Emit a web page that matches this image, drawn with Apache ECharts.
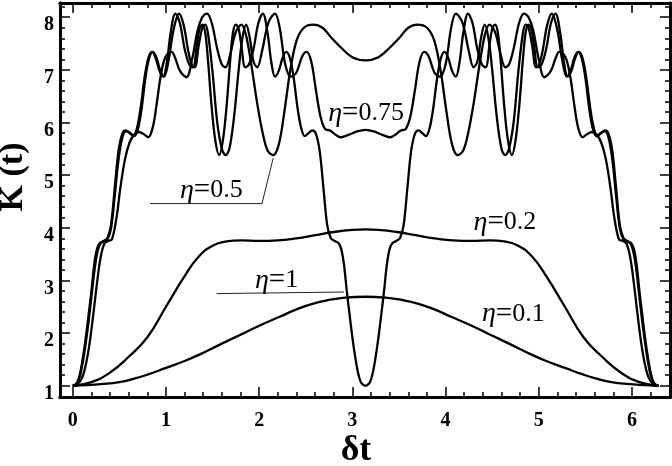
<!DOCTYPE html>
<html><head><meta charset="utf-8">
<script src="https://cdn.jsdelivr.net/npm/echarts@6.0.0/dist/echarts.min.js"></script>
<style>html,body{margin:0;padding:0;background:#fff}#c{width:672px;height:466px}</style>
</head><body><div id="c"></div>
<script>
// ---- data (x = δt, y = K(t)) ----
const eta01 = [[0,1.00],[0.15,1.01],[0.3,1.03],[0.5,1.07],[0.65,1.13],[0.8,1.21],[1.0,1.34],[1.2,1.47],[1.37,1.60],[1.6,1.80],[1.8,1.97],[2.0,2.14],[2.22,2.31],[2.4,2.45],[2.58,2.56],[2.75,2.63],[2.9,2.67],[3.1416,2.69],[3.38,2.67],[3.53,2.63],[3.70,2.56],[3.88,2.45],[4.06,2.31],[4.28,2.14],[4.48,1.97],[4.68,1.80],[4.91,1.60],[5.08,1.47],[5.28,1.34],[5.48,1.21],[5.63,1.13],[5.78,1.07],[5.98,1.03],[6.13,1.01],[6.2832,1.00]];

const eta02 = [[0,1.00],[0.2,1.07],[0.4,1.25],[0.6,1.55],[0.8,1.92],[1.0,2.50],[1.2,3.08],[1.35,3.45],[1.5,3.66],[1.65,3.74],[1.8,3.76],[2.0,3.75],[2.2,3.76],[2.4,3.80],[2.6,3.86],[2.8,3.92],[3.0,3.96],[3.1416,3.97],[3.28,3.96],[3.48,3.92],[3.68,3.86],[3.88,3.80],[4.08,3.76],[4.28,3.75],[4.48,3.76],[4.63,3.74],[4.78,3.66],[4.93,3.45],[5.08,3.08],[5.28,2.50],[5.48,1.92],[5.68,1.55],[5.88,1.25],[6.08,1.07],[6.2832,1.00]];

const eta05 = [[0,1.00],[0.05,1.03],[0.10,1.15],[0.14,1.40],[0.18,1.80],[0.22,2.35],[0.26,2.95],[0.30,3.45],[0.34,3.70],[0.38,3.75],[0.42,3.78],[0.47,4.20],[0.51,4.75],[0.56,5.30],[0.61,5.62],[0.66,5.77],[0.71,5.82],[0.76,5.78],[0.81,5.72],[0.86,5.92],[0.90,6.35],[0.94,6.85],[0.98,7.18],[1.02,7.31],[1.06,7.34],[1.10,7.22],[1.15,6.98],[1.22,6.86],[1.28,7.20],[1.34,7.75],[1.39,8.00],[1.44,8.07],[1.49,7.90],[1.55,7.40],[1.60,7.10],[1.64,7.05],[1.69,7.30],[1.75,7.72],[1.81,7.86],[1.86,7.65],[1.92,7.05],[1.98,6.35],[2.04,5.78],[2.09,5.47],[2.15,5.38],[2.21,5.58],[2.27,6.20],[2.33,6.95],[2.40,7.55],[2.48,7.80],[2.58,7.86],[2.68,7.80],[2.78,7.60],[2.88,7.42],[3.00,7.24],[3.1416,7.18],
[3.28,7.24],[3.40,7.42],[3.50,7.60],[3.60,7.80],[3.70,7.86],[3.80,7.80],[3.88,7.55],[3.95,6.95],[4.01,6.20],[4.07,5.58],[4.13,5.38],[4.19,5.47],[4.24,5.78],[4.30,6.35],[4.36,7.05],[4.42,7.65],[4.47,7.86],[4.53,7.72],[4.59,7.30],[4.64,7.05],[4.68,7.10],[4.73,7.40],[4.79,7.90],[4.84,8.07],[4.89,8.00],[4.94,7.75],[5.00,7.20],[5.06,6.86],[5.13,6.98],[5.18,7.22],[5.22,7.34],[5.26,7.31],[5.30,7.18],[5.34,6.85],[5.38,6.35],[5.42,5.92],[5.47,5.72],[5.52,5.78],[5.57,5.82],[5.62,5.77],[5.67,5.62],[5.72,5.30],[5.77,4.75],[5.81,4.20],[5.86,3.78],[5.90,3.75],[5.94,3.70],[5.98,3.45],[6.02,2.95],[6.06,2.35],[6.10,1.80],[6.14,1.40],[6.18,1.15],[6.23,1.03],[6.2832,1.00]];

const eta075 = [[0,1.00],[0.02,1.01],[0.05,1.06],[0.08,1.20],[0.11,1.47],[0.14,1.82],[0.17,2.22],[0.20,2.68],[0.23,3.15],[0.26,3.50],[0.29,3.68],[0.33,3.74],[0.37,3.78],[0.41,3.98],[0.45,4.60],[0.49,5.28],[0.53,5.70],[0.57,5.83],[0.61,5.81],[0.66,5.74],[0.70,5.88],[0.74,6.28],[0.78,6.85],[0.82,7.22],[0.86,7.34],[0.90,7.22],[0.94,6.98],[0.98,6.87],[1.03,7.20],[1.08,7.75],[1.14,8.07],[1.19,7.85],[1.24,7.35],[1.28,7.08],[1.31,7.05],[1.35,7.45],[1.39,7.80],[1.42,7.86],[1.45,7.70],[1.50,6.95],[1.55,6.00],[1.60,5.50],[1.64,5.38],[1.68,5.50],[1.73,6.10],[1.78,7.00],[1.82,7.60],[1.86,7.86],[1.90,7.60],[1.94,7.15],[1.98,7.05],[2.03,7.35],[2.10,7.90],[2.17,8.07],[2.22,7.80],[2.28,7.10],[2.34,6.87],[2.40,6.95],[2.46,7.25],[2.51,7.34],[2.56,7.15],[2.61,6.60],[2.66,6.10],[2.71,5.87],[2.76,5.85],[2.81,5.78],[2.87,5.72],[2.95,5.76],[3.05,5.83],[3.1416,5.86],
[3.23,5.83],[3.33,5.76],[3.41,5.72],[3.47,5.78],[3.52,5.85],[3.57,5.87],[3.62,6.10],[3.67,6.60],[3.72,7.15],[3.77,7.34],[3.82,7.25],[3.88,6.95],[3.94,6.87],[4.00,7.10],[4.06,7.80],[4.11,8.07],[4.18,7.90],[4.25,7.35],[4.30,7.05],[4.34,7.15],[4.38,7.60],[4.42,7.86],[4.46,7.60],[4.50,7.00],[4.55,6.10],[4.60,5.50],[4.64,5.38],[4.68,5.50],[4.73,6.00],[4.78,6.95],[4.83,7.70],[4.86,7.86],[4.89,7.80],[4.93,7.45],[4.97,7.05],[5.00,7.08],[5.04,7.35],[5.09,7.85],[5.14,8.07],[5.20,7.75],[5.25,7.20],[5.30,6.87],[5.34,6.98],[5.38,7.22],[5.42,7.34],[5.46,7.22],[5.50,6.85],[5.54,6.28],[5.58,5.88],[5.62,5.74],[5.67,5.81],[5.71,5.83],[5.75,5.70],[5.79,5.28],[5.83,4.60],[5.87,3.98],[5.91,3.78],[5.95,3.74],[5.99,3.68],[6.02,3.50],[6.05,3.15],[6.08,2.68],[6.11,2.22],[6.14,1.82],[6.17,1.47],[6.20,1.20],[6.23,1.06],[6.26,1.01],[6.2832,1.00]];

const eta1 = [[0,1.00],[0.02,1.01],[0.05,1.07],[0.08,1.25],[0.11,1.55],[0.14,1.92],[0.17,2.35],[0.20,2.80],[0.23,3.30],[0.26,3.60],[0.29,3.71],[0.33,3.75],[0.37,3.80],[0.41,4.05],[0.45,4.75],[0.49,5.45],[0.53,5.78],[0.57,5.85],[0.61,5.80],[0.65,5.74],[0.69,5.90],[0.73,6.30],[0.77,6.85],[0.81,7.22],[0.85,7.34],[0.89,7.22],[0.93,6.98],[0.97,6.87],[1.01,7.15],[1.05,7.70],[1.10,8.07],[1.15,7.88],[1.20,7.40],[1.25,7.10],[1.29,7.05],[1.33,7.45],[1.36,7.78],[1.39,7.86],[1.42,7.72],[1.45,7.20],[1.49,6.30],[1.53,5.65],[1.571,5.38],
[1.61,5.65],[1.65,6.30],[1.69,7.20],[1.72,7.72],[1.75,7.86],[1.78,7.78],[1.81,7.45],[1.85,7.05],[1.89,7.10],[1.94,7.40],[1.99,7.88],[2.04,8.07],[2.09,7.70],[2.13,7.15],[2.17,6.87],[2.21,6.98],[2.25,7.22],[2.29,7.34],[2.33,7.22],[2.37,6.85],[2.41,6.30],[2.45,5.90],[2.49,5.74],[2.53,5.80],[2.57,5.85],[2.61,5.78],[2.65,5.45],[2.69,4.75],[2.73,4.05],[2.77,3.80],[2.81,3.75],[2.85,3.71],[2.88,3.60],[2.91,3.30],[2.94,2.80],[2.97,2.35],[3.00,1.92],[3.03,1.55],[3.06,1.25],[3.09,1.07],[3.12,1.01],[3.1416,1.00],
[3.16,1.01],[3.19,1.07],[3.22,1.25],[3.25,1.55],[3.28,1.92],[3.31,2.35],[3.34,2.80],[3.37,3.30],[3.40,3.60],[3.43,3.71],[3.47,3.75],[3.51,3.80],[3.55,4.05],[3.59,4.75],[3.63,5.45],[3.67,5.78],[3.71,5.85],[3.75,5.80],[3.79,5.74],[3.83,5.90],[3.87,6.30],[3.91,6.85],[3.95,7.22],[3.99,7.34],[4.03,7.22],[4.07,6.98],[4.11,6.87],[4.15,7.15],[4.19,7.70],[4.24,8.07],[4.29,7.88],[4.34,7.40],[4.39,7.10],[4.43,7.05],[4.47,7.45],[4.50,7.78],[4.53,7.86],[4.56,7.72],[4.59,7.20],[4.63,6.30],[4.67,5.65],[4.712,5.38],
[4.75,5.65],[4.79,6.30],[4.83,7.20],[4.86,7.72],[4.89,7.86],[4.92,7.78],[4.95,7.45],[4.99,7.05],[5.03,7.10],[5.08,7.40],[5.13,7.88],[5.18,8.07],[5.23,7.70],[5.27,7.15],[5.31,6.87],[5.35,6.98],[5.39,7.22],[5.43,7.34],[5.47,7.22],[5.51,6.85],[5.55,6.30],[5.59,5.90],[5.63,5.74],[5.67,5.80],[5.71,5.85],[5.75,5.78],[5.79,5.45],[5.83,4.75],[5.87,4.05],[5.91,3.80],[5.95,3.75],[5.99,3.71],[6.02,3.60],[6.05,3.30],[6.08,2.80],[6.11,2.35],[6.14,1.92],[6.17,1.55],[6.20,1.25],[6.23,1.07],[6.26,1.01],[6.2832,1.00]];

// ---- ticks ----
const xMajorTicks = [0,1,2,3,4,5,6];
const xMinorTicks = [0.2,0.4,0.6,0.8,1.2,1.4,1.6,1.8,2.2,2.4,2.6,2.8,3.2,3.4,3.6,3.8,4.2,4.4,4.6,4.8,5.2,5.4,5.6,5.8,6.2];
const yMajorTicks = [1,2,3,4,5,6,7,8];
const yMinorTicks = [1.2,1.4,1.6,1.8,2.2,2.4,2.6,2.8,3.2,3.4,3.6,3.8,4.2,4.4,4.6,4.8,5.2,5.4,5.6,5.8,6.2,6.4,6.6,6.8,7.2,7.4,7.6,7.8,8.2];

// ---- annotations (data coordinates of text left/baseline) ----
const annLabels = ['0.75','0.5','1','0.2','0.1'];
const annX = [2.74, 1.15, 1.955, 4.30, 4.39];
const annY = [6.02, 4.56, 2.85, 3.95, 2.21];
const leader05 = [[0.83,4.46],[2.03,4.46],[2.15,5.32]];
const leader1 = [[1.544,2.75],[2.91,2.78]];

const X_MIN = -0.137, X_MAX = 6.408, Y_MIN = 0.786, Y_MAX = 8.27;
const tickFont = {fontFamily:'Liberation Serif', fontWeight:'bold', fontSize:20, color:'#000'};

function xAx(pos, ticks, len, showLabel) {
  return {type:'value', gridIndex:0, position:pos, min:X_MIN, max:X_MAX,
    axisLine:{show:true, onZero:false, lineStyle:{color:'#000', width:3}},
    axisTick:{show:true, inside:true, length:len, customValues:ticks, lineStyle:{color:'#000', width:1.5}},
    axisLabel: showLabel ? Object.assign({show:true, customValues:ticks, margin:14}, tickFont) : {show:false},
    splitLine:{show:false}};
}
function yAx(pos, ticks, len, showLabel) {
  return {type:'value', gridIndex:0, position:pos, min:Y_MIN, max:Y_MAX,
    axisLine:{show:true, onZero:false, lineStyle:{color:'#000', width:3}},
    axisTick:{show:true, inside:true, length:len, customValues:ticks, lineStyle:{color:'#000', width:1.5}},
    axisLabel: showLabel ? Object.assign({show:true, customValues:ticks, margin:6, verticalAlign:'top', lineHeight:16}, tickFont) : {show:false},
    splitLine:{show:false}};
}

const seriesData = [eta01, eta02, eta05, eta075, eta1];
const seriesSmooth = [0.5, 0.5, 0.35, 0.35, 0.35];
const chart = echarts.init(document.getElementById('c'), null, {renderer:'canvas'});
chart.setOption({
  animation:false,
  backgroundColor:'#fff',
  grid:{left:60, right:2, top:3, bottom:69},
  xAxis:[xAx('bottom', xMajorTicks, 10, true), xAx('bottom', xMinorTicks, 5, false), xAx('top', xMajorTicks, 10, false), xAx('top', xMinorTicks, 5, false)],
  yAxis:[yAx('left', yMajorTicks, 10, true), yAx('left', yMinorTicks, 5, false), yAx('right', yMajorTicks, 10, false), yAx('right', yMinorTicks, 5, false)],
  series: seriesData.map((d, i) => ({type:'line', xAxisIndex:0, yAxisIndex:0, data:d, showSymbol:false, symbol:'none',
    smooth:seriesSmooth[i], lineStyle:{color:'#000', width:2.3}, emphasis:{disabled:true}}))
});

function px(p){ return chart.convertToPixel({xAxisIndex:0, yAxisIndex:0}, p); }
const g = [];
annLabels.forEach((t, i) => {
  const p = px([annX[i], annY[i]]);
  g.push({type:'text', x:p[0], y:p[1] - 8, silent:true, style:{
    text:'{e|η}{q|=}{n|' + t + '}', align:'left', verticalAlign:'middle',
    rich:{ e:{fontFamily:'Liberation Serif', fontStyle:'italic', fontSize:28, fill:'#000'},
           q:{fontFamily:'Liberation Serif', fontSize:29, fill:'#000'},
           n:{fontFamily:'Liberation Serif', fontSize:26, fill:'#000'} }}});
});
[leader05, leader1].forEach(L => {
  g.push({type:'polyline', silent:true, shape:{points:L.map(px)}, style:{stroke:'#222', lineWidth:1, fill:null}});
});
g.push({type:'text', x:356, y:451, silent:true, style:{text:'δt', font:'bold 36px "Liberation Serif"', fill:'#000', align:'center', verticalAlign:'middle'}});
g.push({type:'text', x:13, y:177, rotation:Math.PI/2, silent:true, style:{text:'K (t)', font:'bold 34px "Liberation Serif"', fill:'#000', align:'center', verticalAlign:'middle'}});
chart.setOption({graphic:g});
</script></body></html>
